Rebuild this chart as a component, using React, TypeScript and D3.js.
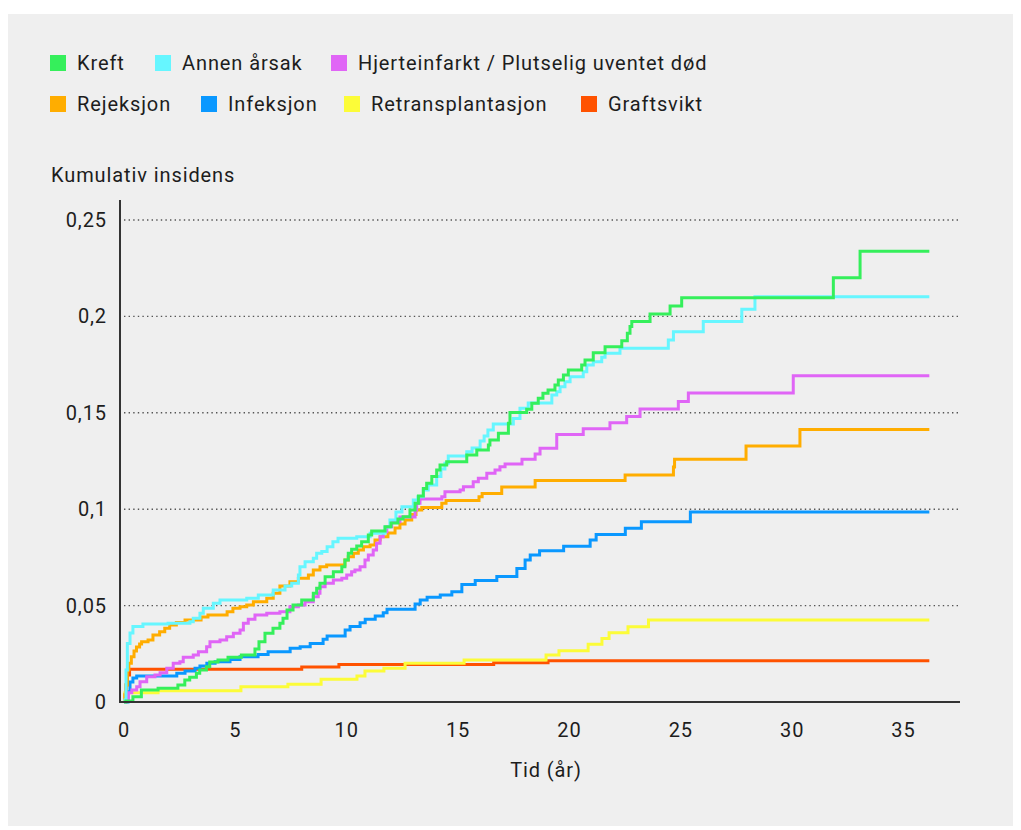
import React from "react";
import * as d3 from "d3";

// ---------- DATA (time in years, cumulative incidence) ----------
const seriesNames = [
  "Kreft",
  "Annen årsak",
  "Hjerteinfarkt / Plutselig uventet død",
  "Rejeksjon",
  "Infeksjon",
  "Retransplantasjon",
  "Graftsvikt",
];

const kreft: [number, number][] = [
  [0, 0], [0.09, 0.0005], [0.4, 0.0027], [0.78, 0.0062], [1.53, 0.0071], [2.42, 0.0088],
  [2.73, 0.0114], [2.95, 0.0128], [3.25, 0.0149], [3.4, 0.0166], [3.7, 0.0183], [3.85, 0.0207],
  [4.22, 0.0218], [4.67, 0.0232], [5.27, 0.0244], [5.88, 0.0275], [6.06, 0.0313], [6.33, 0.0356],
  [6.69, 0.0382], [7.0, 0.0408], [7.14, 0.0434], [7.32, 0.0477], [7.59, 0.0503], [7.98, 0.0529],
  [8.5, 0.0564], [8.65, 0.059], [8.8, 0.0616], [9.03, 0.065], [9.4, 0.0676], [9.78, 0.0702],
  [9.92, 0.0737], [10.07, 0.0771], [10.22, 0.0792], [10.45, 0.0809], [10.67, 0.0831], [10.97, 0.0866],
  [11.12, 0.0887], [11.72, 0.0909], [11.99, 0.0928], [12.3, 0.0949], [12.53, 0.0961], [12.84, 0.0996],
  [13.07, 0.1031], [13.22, 0.1068], [13.44, 0.1108], [13.59, 0.1134], [13.82, 0.1169], [14.04, 0.1203],
  [14.19, 0.1229], [14.49, 0.1246], [15.39, 0.1281], [15.84, 0.1307], [16.36, 0.1333], [16.43, 0.1359],
  [16.81, 0.1394], [17.26, 0.1446], [17.33, 0.1501], [18.08, 0.1518], [18.31, 0.1549], [18.6, 0.1575],
  [18.81, 0.1601], [19.04, 0.1618], [19.35, 0.1644], [19.5, 0.167], [19.73, 0.1696], [19.95, 0.1722],
  [20.55, 0.1748], [20.7, 0.1774], [21.07, 0.1812], [21.6, 0.1843], [22.35, 0.1874], [22.6, 0.1912],
  [22.72, 0.1947], [22.8, 0.1973], [23.62, 0.2012], [24.52, 0.2054], [25.04, 0.2097], [31.85, 0.2201],
  [33.05, 0.2338],
];

const annen: [number, number][] = [
  [0, 0], [0.04, 0.001], [0.09, 0.0166], [0.15, 0.0304], [0.27, 0.0358], [0.4, 0.0391],
  [0.85, 0.0405], [1.98, 0.0408], [2.96, 0.0416], [3.11, 0.0434], [3.41, 0.046], [3.56, 0.0486],
  [4.01, 0.0512], [4.31, 0.0529], [5.51, 0.0538], [6.03, 0.0555], [6.7, 0.0581], [7.23, 0.0602],
  [7.53, 0.0616], [7.83, 0.0659], [7.9, 0.0702], [8.13, 0.0728], [8.5, 0.0745], [8.65, 0.0771],
  [8.88, 0.078], [9.12, 0.0805], [9.38, 0.0831], [9.61, 0.0849], [10.45, 0.0857], [11.05, 0.0875],
  [11.72, 0.0908], [11.94, 0.0944], [12.21, 0.0985], [12.48, 0.1013], [12.99, 0.1048], [13.2, 0.1065],
  [13.44, 0.11], [13.66, 0.1126], [14.04, 0.1169], [14.23, 0.1209], [14.41, 0.1238], [14.56, 0.1276],
  [15.39, 0.1298], [15.63, 0.1317], [15.99, 0.1354], [16.17, 0.138], [16.34, 0.1411], [16.58, 0.1442],
  [17.48, 0.1471], [17.78, 0.1523], [18.15, 0.1551], [19.21, 0.1592], [19.43, 0.1609], [19.58, 0.1635],
  [19.8, 0.1661], [20.03, 0.1687], [20.62, 0.1713], [20.78, 0.1748], [21.07, 0.1765], [21.45, 0.1788],
  [21.6, 0.1809], [22.27, 0.1835], [24.44, 0.1878], [24.67, 0.1921], [26.01, 0.1973], [27.74, 0.2037],
  [28.33, 0.2102],
];

const hjerte: [number, number][] = [
  [0, 0], [0.09, 0.001], [0.19, 0.0048], [0.35, 0.0062], [0.57, 0.0079], [0.72, 0.0105],
  [1.02, 0.0131], [1.39, 0.014], [1.62, 0.0152], [1.92, 0.0175], [2.21, 0.0201], [2.51, 0.0209],
  [2.66, 0.0232], [3.11, 0.0244], [3.34, 0.0261], [3.71, 0.0287], [3.86, 0.0313], [4.31, 0.0322],
  [4.61, 0.0339], [4.91, 0.0356], [5.21, 0.0373], [5.36, 0.0408], [5.58, 0.0429], [5.88, 0.0451],
  [6.41, 0.046], [7.0, 0.0468], [7.45, 0.0494], [7.83, 0.0503], [8.13, 0.052], [8.5, 0.0546],
  [8.72, 0.0564], [8.8, 0.0598], [9.03, 0.0616], [9.4, 0.0633], [9.78, 0.0642], [10.0, 0.0659],
  [10.22, 0.0676], [10.37, 0.0685], [10.6, 0.0702], [10.82, 0.0737], [10.97, 0.0762], [11.19, 0.0788],
  [11.34, 0.0823], [11.5, 0.0857], [11.64, 0.0883], [11.8, 0.0909], [12.02, 0.0935], [12.39, 0.096],
  [13.07, 0.0996], [13.14, 0.1031], [13.29, 0.1053], [14.27, 0.1065], [14.41, 0.1091], [15.09, 0.11],
  [15.24, 0.1117], [15.68, 0.1143], [15.91, 0.116], [16.29, 0.1186], [16.66, 0.1203], [16.88, 0.122],
  [17.11, 0.1234], [17.87, 0.1259], [18.46, 0.1286], [18.68, 0.1316], [19.43, 0.1387], [20.62, 0.1417],
  [21.82, 0.1449], [22.57, 0.1481], [23.17, 0.152], [24.89, 0.1558], [25.34, 0.1603], [30.05, 0.1692],
];

const rejeksjon: [number, number][] = [
  [0, 0], [0.04, 0.0036], [0.09, 0.0088], [0.15, 0.0166], [0.22, 0.0201], [0.33, 0.0235],
  [0.45, 0.0265], [0.56, 0.0285], [0.7, 0.0301], [0.79, 0.0313], [1.08, 0.0322], [1.3, 0.0348],
  [1.6, 0.0365], [1.83, 0.0382], [2.05, 0.0399], [2.35, 0.0412], [2.74, 0.0425], [3.46, 0.0441],
  [3.77, 0.0451], [4.63, 0.0468], [4.89, 0.0486], [5.21, 0.0494], [5.51, 0.0503], [5.81, 0.052],
  [6.41, 0.0538], [6.7, 0.0564], [7.0, 0.0602], [7.45, 0.0624], [7.83, 0.0642], [8.28, 0.0659],
  [8.5, 0.0685], [8.8, 0.0702], [9.1, 0.0711], [9.92, 0.0737], [10.07, 0.0754], [10.3, 0.0771],
  [10.52, 0.0788], [10.75, 0.0805], [11.05, 0.0814], [11.27, 0.084], [11.5, 0.0857], [11.85, 0.0877],
  [12.17, 0.0902], [12.39, 0.0923], [12.62, 0.0944], [12.92, 0.0973], [13.11, 0.0996], [13.37, 0.1009],
  [14.27, 0.1031], [14.46, 0.1045], [15.94, 0.1065], [16.08, 0.1082], [16.96, 0.1115], [18.46, 0.1149],
  [22.5, 0.1177], [24.67, 0.1219], [24.72, 0.1259], [27.93, 0.1328], [30.35, 0.1414],
];

const infeksjon: [number, number][] = [
  [0, 0], [0.18, 0.0053], [0.27, 0.0104], [0.4, 0.0124], [0.57, 0.0135], [2.37, 0.0149],
  [2.74, 0.0161], [3.19, 0.0175], [3.41, 0.0187], [3.72, 0.0201], [4.09, 0.0209], [4.76, 0.0221],
  [5.21, 0.0235], [6.02, 0.0247], [6.47, 0.0261], [7.46, 0.0279], [7.91, 0.0287], [8.36, 0.0304],
  [8.94, 0.0325], [9.12, 0.0342], [9.93, 0.0373], [10.15, 0.0391], [10.6, 0.0411], [10.83, 0.0429],
  [11.28, 0.0446], [11.64, 0.0463], [11.81, 0.0481], [13.07, 0.0508], [13.3, 0.0529], [13.61, 0.0543],
  [14.2, 0.0555], [14.72, 0.0572], [15.17, 0.061], [15.77, 0.063], [16.74, 0.0651], [17.64, 0.0693],
  [18.01, 0.0737], [18.24, 0.0762], [18.66, 0.0785], [19.74, 0.0808], [20.93, 0.084], [21.2, 0.0869],
  [22.51, 0.0901], [23.23, 0.0935], [25.43, 0.0985],
];

const retransplantasjon: [number, number][] = [
  [0, 0], [0.04, 0.0048], [1.53, 0.0059], [5.25, 0.0079], [7.36, 0.0092], [8.85, 0.0118],
  [10.46, 0.0135], [10.82, 0.0161], [11.67, 0.0175], [12.62, 0.0201], [15.27, 0.0218], [18.95, 0.0244],
  [19.53, 0.0266], [20.84, 0.0299], [21.46, 0.033], [21.78, 0.0359], [22.63, 0.039], [23.55, 0.0425],
];

const graftsvikt: [number, number][] = [
  [0, 0], [0.04, 0.004], [0.09, 0.009], [0.15, 0.014], [0.25, 0.017], [7.98, 0.0182],
  [9.65, 0.0194], [16.6, 0.0204], [19.04, 0.0214],
];

const seriesData = [kreft, annen, hjerte, rejeksjon, infeksjon, retransplantasjon, graftsvikt];
const followUpEnd = 36.16;

const xTicks = [0, 5, 10, 15, 20, 25, 30, 35];
const yTicks = [0, 0.05, 0.1, 0.15, 0.2, 0.25];

const yTitle = "Kumulativ insidens";
const xTitle = "Tid (år)";

// ---------- STYLE ----------
const colors = ["#35ef5b", "#66f6ff", "#e065f6", "#ffad00", "#0a98ff", "#fcfc38", "#ff5200"];
const legendLayout = [
  { x: 50, y: 55 }, { x: 155, y: 55 }, { x: 331, y: 55 },
  { x: 50, y: 96 }, { x: 201, y: 96 }, { x: 344, y: 96 }, { x: 581, y: 96 },
];
const FONT = "Roboto, 'Noto Sans', sans-serif";
const TEXT = "#1d1d1d";

export default function App() {
  const W = 1021, H = 830;
  const x = d3.scaleLinear().domain([0, 35]).range([124, 903.5]);
  const y = d3.scaleLinear().domain([0, 0.25]).range([702, 220]);
  const line = d3
    .line<[number, number]>()
    .x((d) => x(d[0]))
    .y((d) => y(d[1]))
    .curve(d3.curveStepAfter);

  const fmt = (v: number) => String(Math.round(v * 1000) / 1000).replace(".", ",");
  const order = [6, 5, 4, 3, 2, 1, 0];
  const textStyle = { fontFamily: FONT, fontSize: 20, letterSpacing: 0.9, fill: TEXT } as const;

  return (
    <svg width={W} height={H} style={{ position: "absolute", left: 0, top: 0, display: "block" }}>
      <rect x={0} y={0} width={W} height={H} fill="#ffffff" />
      <rect x={8} y={14} width={1005} height={812} fill="#efefef" />

      {/* legend */}
      {seriesNames.map((name, i) => (
        <g key={name}>
          <rect x={legendLayout[i].x} y={legendLayout[i].y} width={16} height={16} fill={colors[i]} />
          <text x={legendLayout[i].x + 27} y={legendLayout[i].y + 15} {...textStyle}>
            {name}
          </text>
        </g>
      ))}

      <text x={51} y={182} {...textStyle}>{yTitle}</text>

      {/* gridlines */}
      {yTicks.filter((t) => t > 0).map((t) => (
        <line key={t} x1={124} x2={960} y1={y(t)} y2={y(t)} stroke="#555" strokeWidth={1.4} strokeDasharray="1.4,3.2" />
      ))}

      {/* y tick labels */}
      {yTicks.map((t) => (
        <text key={t} x={107} y={y(t) + 7} textAnchor="end" {...textStyle}>{fmt(t)}</text>
      ))}

      {/* x tick labels */}
      {xTicks.map((t) => (
        <text key={t} x={x(t)} y={737} textAnchor="middle" {...textStyle}>{t}</text>
      ))}
      <text x={546} y={777} textAnchor="middle" {...textStyle}>{xTitle}</text>

      {/* lines */}
      {order.map((i) => {
        const data = seriesData[i];
        const pts: [number, number][] = [...data, [followUpEnd, data[data.length - 1][1]]];
        return (
          <path key={i} d={line(pts) || ""} fill="none" stroke={colors[i]} strokeWidth={3} />
        );
      })}

      {/* axes */}
      <line x1={120} x2={120} y1={200} y2={703} stroke="#333" strokeWidth={2} />
      <line x1={119} x2={960} y1={702} y2={702} stroke="#333" strokeWidth={2} />
    </svg>
  );
}
